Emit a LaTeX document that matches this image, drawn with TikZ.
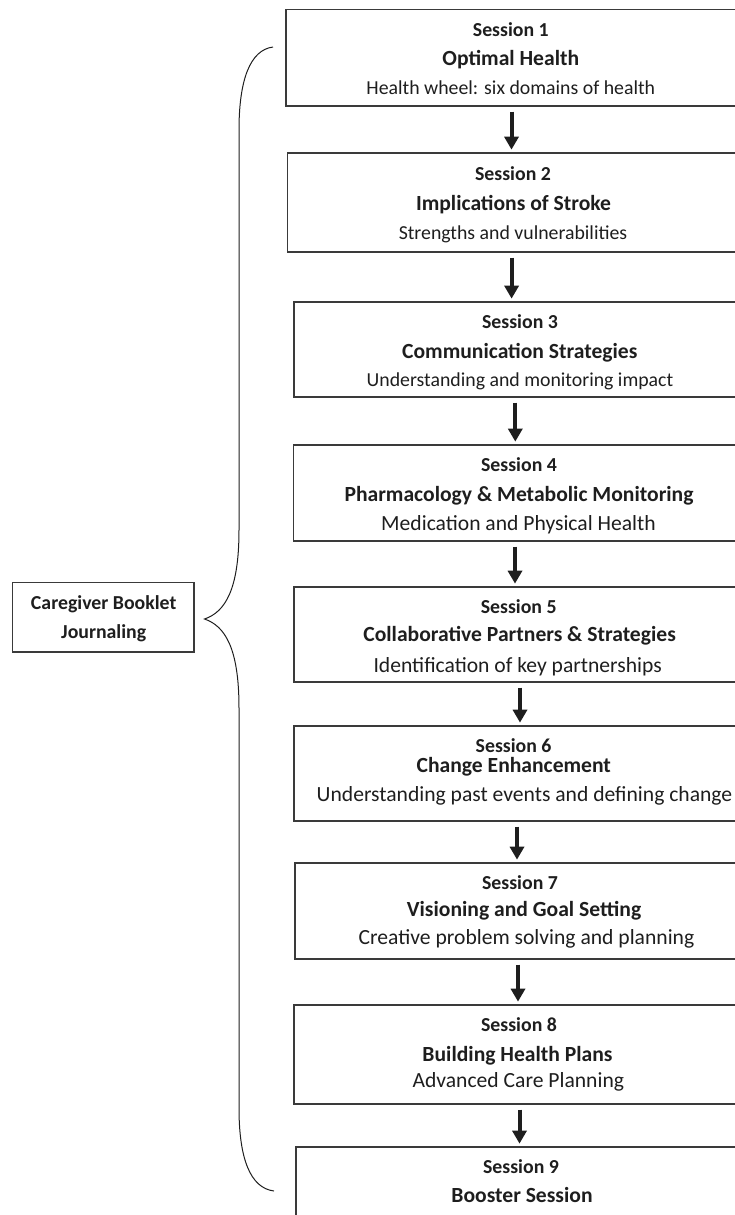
\documentclass[tikz,border=0pt]{standalone}
\usepackage{fontspec}
\setmainfont{Carlito}
\usetikzlibrary{arrows.meta}
\definecolor{ink}{HTML}{1E1E1E}
\definecolor{frame}{HTML}{3A3A3A}
\newcommand\mkbox[4]{\node[boxstyle, minimum width={(745-#2)*1pt}, minimum height={(#4-#3)*1pt}] (#1) at ({(#2+745)/2},{(#3+#4)/2}) {};}
\begin{document}
\begin{tikzpicture}[x=1pt,y=-1pt,
  boxstyle/.style={draw=frame, line width=1.3pt, rectangle, inner sep=0pt},
  sess/.style={font=\fontsize{19.8}{22}\selectfont\bfseries, text=ink, anchor=base, inner sep=0pt},
  ttl/.style={font=\fontsize{21.6}{24}\selectfont\bfseries, text=ink, anchor=base, inner sep=0pt},
  cgtext/.style={font=\fontsize{19.8}{22}\selectfont\bfseries, text=ink, anchor=base, inner sep=0pt},
  sub/.style={font=\fontsize{19.8}{22}\selectfont, text=ink, anchor=base, inner sep=0pt},
  subl/.style={font=\fontsize{21.6}{24}\selectfont, text=ink, anchor=base, inner sep=0pt},
  arr/.style={draw=ink, line width=4pt, -{Triangle[width=14pt,length=13pt]}, shorten <=5pt, shorten >=2.7pt},
  bracestyle/.style={draw=ink, line width=1pt}]
\useasboundingbox (0,0) rectangle (734,1215);

% session boxes
\mkbox{b1}{286}{9.3}{106}
\mkbox{b2}{287.5}{153}{252}
\mkbox{b3}{294}{302}{397}
\mkbox{b4}{293.5}{445}{541}
\mkbox{b5}{294}{587}{682}
\mkbox{b6}{294}{726}{821}
\mkbox{b7}{295}{863}{959}
\mkbox{b8}{294}{1005}{1104}
\mkbox{b9}{296}{1147}{1240}

% texts
\node[sess] (t1a) at (510.8,36.5) {Session 1};
\node[ttl]  (t1b) at (510.8,65.8) {Optimal Health};
\node[sub]  (t1c) at (510.8,94) {Health wheel: six domains of health};

\node[sess] (t2a) at (513,180.5) {Session 2};
\node[ttl]  (t2b) at (513.5,210.3) {Implications of Stroke};
\node[sub]  (t2c) at (513,239) {Strengths and vulnerabilities};

\node[sess] (t3a) at (520,328.5) {Session 3};
\node[ttl]  (t3b) at (519.8,358.8) {Communication Strategies};
\node[sub]  (t3c) at (520,386.5) {Understanding and monitoring impact};

\node[sess] (t4a) at (519,471.5) {Session 4};
\node[ttl]  (t4b) at (519,501.8) {Pharmacology \& Metabolic Monitoring};
\node[subl] (t4c) at (518.5,530) {Medication and Physical Health};

\node[sess] (t5a) at (518.7,613) {Session 5};
\node[ttl]  (t5b) at (519.6,641.8) {Collaborative Partners \& Strategies};
\node[subl] (t5c) at (517.7,672) {Identification of key partnerships};

\node[sess] (t6a) at (513.6,752) {Session 6};
\node[ttl]  (t6b) at (513.8,772) {Change Enhancement};
\node[subl, anchor=base west] (t6c) at (316.5,801) {Understanding past events and defining change};

\node[sess] (t7a) at (520,889.8) {Session 7};
\node[ttl]  (t7b) at (524,916.8) {Visioning and Goal Setting};
\node[subl] (t7c) at (526.5,944) {Creative problem solving and planning};

\node[sess] (t8a) at (519,1031.5) {Session 8};
\node[ttl]  (t8b) at (517.5,1061.8) {Building Health Plans};
\node[subl] (t8c) at (518.3,1087.5) {Advanced Care Planning};

\node[sess] (t9a) at (521,1173) {Session 9};
\node[ttl]  (t9b) at (522,1202.8) {Booster Session};

% arrows
\coordinate (x1) at (511.5,0);
\coordinate (x2) at (511.6,0);
\coordinate (x3) at (515.3,0);
\coordinate (x4) at (515,0);
\coordinate (x5) at (520,0);
\coordinate (x6) at (517,0);
\coordinate (x7) at (518,0);
\coordinate (x8) at (519.5,0);
\draw[arr] (b1.south -| x1) -- (b2.north -| x1);
\draw[arr] (b2.south -| x2) -- (b3.north -| x2);
\draw[arr] (b3.south -| x3) -- (b4.north -| x3);
\draw[arr] (b4.south -| x4) -- (b5.north -| x4);
\draw[arr] (b5.south -| x5) -- (b6.north -| x5);
\draw[arr] (b6.south -| x6) -- (b7.north -| x6);
\draw[arr] (b7.south -| x7) -- (b8.north -| x7);
\draw[arr] (b8.south -| x8) -- (b9.north -| x8);

% caregiver box
\node[boxstyle, minimum width=181.3pt, minimum height=69.3pt] (cg) at (103.35,617.35) {};
\node[cgtext] (cga) at (103.7,609.5) {Caregiver Booklet};
\node[cgtext] (cgb) at (103.7,638) {Journaling};

% brace
\coordinate (btop) at (273,47);
\coordinate (btip) at (204.5,619);
\coordinate (bbot) at (274,1191);
\draw[bracestyle] (btop) .. controls (250,50) and (239,80) .. (239,130) -- (239,530)
  .. controls (239,590) and (225,612) .. (btip)
  .. controls (225,626) and (239,648) .. (239,708) -- (239,1108)
  .. controls (239,1158) and (250,1188) .. (bbot);
\end{tikzpicture}
\end{document}
